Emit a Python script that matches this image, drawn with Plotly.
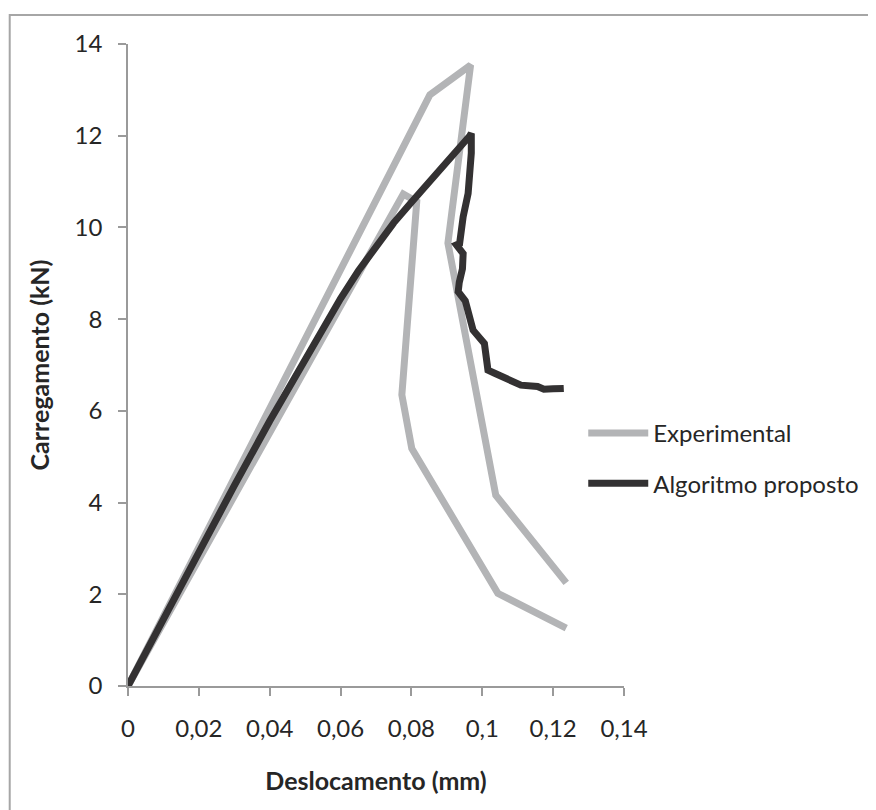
import plotly.graph_objects as go

# Experimental (two specimens, one series with a gap)
exp_x = [0, 0.0425, 0.0852, 0.0967, 0.0903, 0.1038, 0.1237, None,
         0, 0.039, 0.0777, 0.0815, 0.0773, 0.0801, 0.1044, 0.1237]
exp_y = [0, 6.45, 12.89, 13.54, 9.66, 4.16, 2.25, None,
         0, 5.38, 10.73, 10.56, 6.35, 5.18, 2.02, 1.26]

# Algoritmo proposto
alg_x = [0, 0.01, 0.02, 0.03, 0.04, 0.05, 0.055, 0.06, 0.065, 0.07, 0.075, 0.08,
         0.085, 0.09, 0.0935, 0.0955, 0.0965, 0.0969,
         0.0969, 0.0960, 0.0946, 0.0936, 0.0927, 0.0946, 0.0944, 0.0935, 0.0932,
         0.0952, 0.0960, 0.0967, 0.0974, 0.1006, 0.1012, 0.1016, 0.1035, 0.1062,
         0.1109, 0.1156, 0.1174, 0.1200, 0.1230]
alg_y = [0, 1.47, 2.93, 4.37, 5.78, 7.13, 7.8, 8.45, 9.05, 9.6, 10.1, 10.55,
         10.98, 11.4, 11.7, 11.9, 12.0, 12.05,
         11.62, 10.74, 10.23, 9.65, 9.62, 9.43, 9.1, 8.8, 8.6,
         8.4, 8.2, 7.95, 7.76, 7.47, 7.2, 6.89, 6.82, 6.71,
         6.56, 6.53, 6.47, 6.48, 6.49]

x_ticks = [0, 0.02, 0.04, 0.06, 0.08, 0.1, 0.12, 0.14]
x_tick_labels = ["0", "0,02", "0,04", "0,06", "0,08", "0,1", "0,12", "0,14"]
y_ticks = [0, 2, 4, 6, 8, 10, 12, 14]
y_tick_labels = ["0", "2", "4", "6", "8", "10", "12", "14"]

GRAY = "#b3b4b6"
DARK = "#333132"
AXIS = "#9a9a9a"
FONT = "Lato"
TXT = "#262626"

fig = go.Figure()
fig.add_trace(go.Scatter(x=exp_x, y=exp_y, mode="lines", name="Experimental",
                         line=dict(color=GRAY, width=7), connectgaps=False,
                         legendgroup="a"))
fig.add_trace(go.Scatter(x=alg_x, y=alg_y, mode="lines", name="Algoritmo proposto",
                         line=dict(color=DARK, width=7), legendgroup="b"))

# page has an 8px body margin; plot area should sit at x 128..627, y 44..686 on the page
OFF = 8
PL, PR, PT, PB = 128, 627, 44, 686
W, H = 876 - OFF, 810 - OFF
L, T = PL - OFF, PT - OFF
R = W - (PR - OFF)
B = H - (PB - OFF)
pw, ph = PR - PL, PB - PT

fig.update_layout(
    width=W, height=H,
    margin=dict(l=L, r=R, t=T, b=B),
    paper_bgcolor="white", plot_bgcolor="white",
    font=dict(family=FONT, size=24, color=TXT),
    showlegend=True,
    legend=dict(x=(586 - PL) / pw, y=(PB - 411) / ph, xanchor="left", yanchor="top",
                font=dict(family=FONT, size=24, color=TXT),
                bgcolor="rgba(0,0,0,0)", itemwidth=60, tracegroupgap=16),
    xaxis=dict(range=[0, 0.14], tickvals=x_ticks, ticktext=x_tick_labels,
               showgrid=False, zeroline=False, showline=True, linecolor=AXIS, linewidth=1.5,
               ticks="outside", ticklen=8, tickcolor=AXIS, tickwidth=1.5,
               ticklabelstandoff=12,
               title=dict(text="<b>Deslocamento (mm)</b>", standoff=32,
                          font=dict(family=FONT, size=25, color=TXT))),
    yaxis=dict(range=[0, 14], tickvals=y_ticks, ticktext=y_tick_labels,
               showgrid=False, zeroline=False, showline=True, linecolor=AXIS, linewidth=1.5,
               ticks="outside", ticklen=8, tickcolor=AXIS, tickwidth=1.5,
               ticklabelstandoff=11,
               title=dict(text="<b>Carregamento (kN)</b>", standoff=18,
                          font=dict(family=FONT, size=25, color=TXT))),
    shapes=[dict(type="rect", xref="paper", yref="paper",
                 x0=(9 - PL) / pw, x1=(890 - PL) / pw,
                 y0=(PB - 825) / ph, y1=(PB - 15) / ph,
                 line=dict(color="#a6a6a6", width=2), fillcolor="rgba(0,0,0,0)", layer="below")],
)

fig.write_html("out.html")
